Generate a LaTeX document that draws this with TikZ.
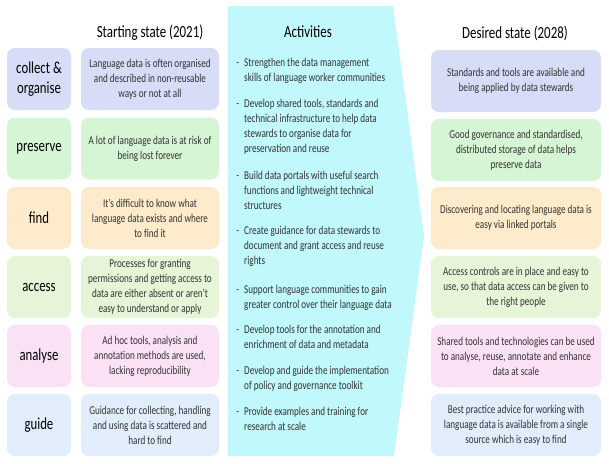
\documentclass[tikz,border=0pt]{standalone}
\usepackage{fontspec}
\setmainfont{Carlito}[FakeStretch=0.76]
\definecolor{cA}{HTML}{D7DCF7}
\definecolor{cB}{HTML}{D6F5D4}
\definecolor{cC}{HTML}{FDEBCB}
\definecolor{cD}{HTML}{E6F5D8}
\definecolor{cE}{HTML}{FBE1F6}
\definecolor{cF}{HTML}{E1EDFB}
\definecolor{cyanpanel}{HTML}{C0F8FB}
\definecolor{bodytext}{HTML}{333333}
\tikzset{
  x=1pt, y=-1pt,
  boxbase/.style={rounded corners=8pt, draw=none, inner sep=0pt, minimum height=62pt, align=center},
  labbox/.style={boxbase, minimum width=64pt, font=\fontsize{16.8}{20}\selectfont, text=black},
  stbox/.style={boxbase, minimum width=138pt, font=\fontsize{12}{15}\selectfont, text=bodytext},
  dsbox/.style={boxbase, minimum width=170pt, font=\fontsize{12}{15}\selectfont, text=bodytext},
  header/.style={font=\fontsize{17}{20}\selectfont, text=black, inner sep=0pt},
  actitem/.style={anchor=north west, inner sep=0pt, align=flush left, text width=165pt, font=\fontsize{12}{15}\selectfont, text=bodytext},
}
\newcommand{\dashitem}{\strut\llap{-\hspace{5pt}}}
\begin{document}
\begin{tikzpicture}
\useasboundingbox (0,0) rectangle (609,463);
\fill[white] (0,0) rectangle (609,463);

% activities panel
\fill[cyanpanel] (228,6) -- (393,6) -- (424,236) -- (394,456) -- (228,456) -- cycle;

% headers
\node[header] (hs) at (150,33) {Starting state (2021)};
\node[header] (ha) at (308,32) {Activities};
\node[header] (hd) at (515,33) {Desired state (2028)};

% row 1
\node[labbox, fill=cA] (l1) at (39,79) {collect \&\\organise};
\node[stbox, fill=cA] (s1) at (150,79) {Language data is often organised\\and described in non-reusable\\ways or not at all};
\node[dsbox, fill=cA] (d1) at (516,81) {Standards and tools are available and\\being applied by data stewards};
% row 2
\node[labbox, fill=cB] (l2) at (39,148.5) {preserve};
\node[stbox, fill=cB] (s2) at (150,148.5) {A lot of language data is at risk of\\being lost forever};
\node[dsbox, fill=cB] (d2) at (516,150) {Good governance and standardised,\\distributed storage of data helps\\preserve data};
% row 3
\node[labbox, fill=cC] (l3) at (39,218) {find};
\node[stbox, fill=cC] (s3) at (150,218) {It’s difficult to know what\\language data exists and where\\to find it};
\node[dsbox, fill=cC] (d3) at (516,218) {Discovering and locating language data is\\easy via linked portals};
% row 4
\node[labbox, fill=cD] (l4) at (39,287) {access};
\node[stbox, fill=cD] (s4) at (150,287) {Processes for granting\\permissions and getting access to\\data are either absent or aren’t\\easy to understand or apply};
\node[dsbox, fill=cD] (d4) at (516,287) {Access controls are in place and easy to\\use, so that data access can be given to\\the right people};
% row 5
\node[labbox, fill=cE] (l5) at (39,356) {analyse};
\node[stbox, fill=cE] (s5) at (150,356) {Ad hoc tools, analysis and\\annotation methods are used,\\lacking reproducibility};
\node[dsbox, fill=cE] (d5) at (516,356) {Shared tools and technologies can be used\\to analyse, reuse, annotate and enhance\\data at scale};
% row 6
\node[labbox, fill=cF] (l6) at (39,425) {guide};
\node[stbox, fill=cF] (s6) at (150,425) {Guidance for collecting, handling\\and using data is scattered and\\hard to find};
\node[dsbox, fill=cF] (d6) at (516,425) {Best practice advice for working with\\language data is available from a single\\source which is easy to find};

% activities
\node[actitem] (a1) at (244,55.5) {\dashitem Strengthen the data management\\skills of language worker communities};
\node[actitem] (a2) at (244,96.5) {\dashitem Develop shared tools, standards and\\technical infrastructure to help data\\stewards to organise data for\\preservation and reuse};
\node[actitem] (a3) at (244,168.5) {\dashitem Build data portals with useful search\\functions and lightweight technical\\structures};
\node[actitem] (a4) at (244,224) {\dashitem Create guidance for data stewards to\\document and grant access and reuse\\rights};
\node[actitem] (a5) at (244,282.5) {\dashitem Support language communities to gain\\greater control over their language data};
\node[actitem] (a6) at (244,322.5) {\dashitem Develop tools for the annotation and\\enrichment of data and metadata};
\node[actitem] (a7) at (244,363.5) {\dashitem Develop and guide the implementation\\of policy and governance toolkit};
\node[actitem] (a8) at (244,404.5) {\dashitem Provide examples and training for\\research at scale};
\end{tikzpicture}
\end{document}
